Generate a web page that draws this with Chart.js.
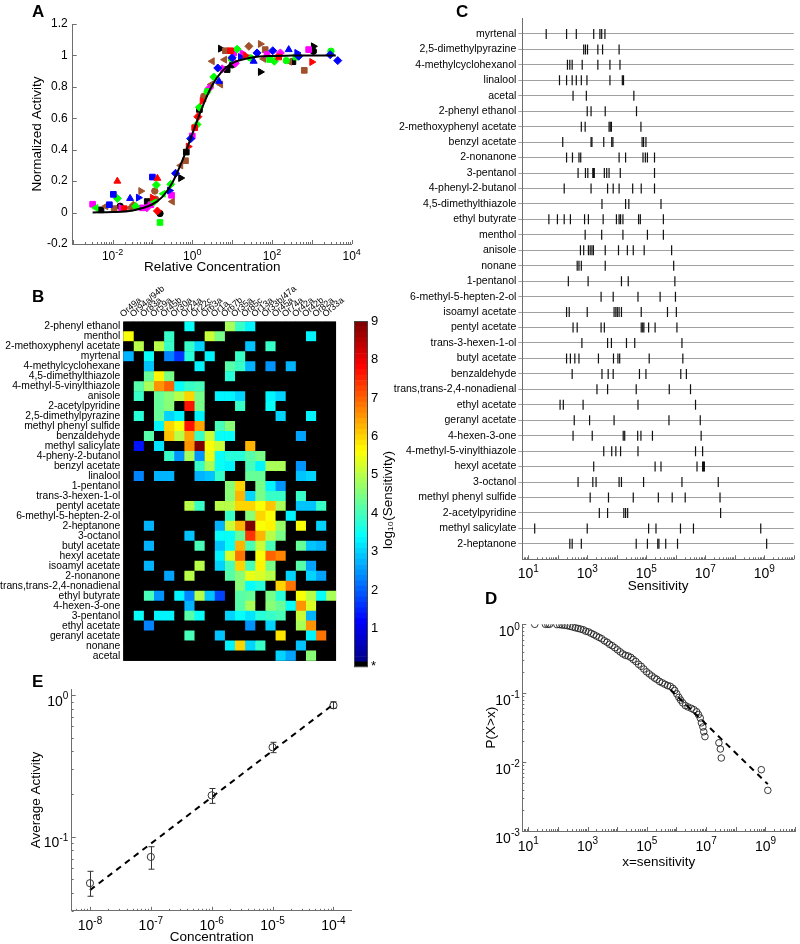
<!DOCTYPE html>
<html>
<head>
<meta charset="utf-8">
<script src="https://cdn.jsdelivr.net/npm/chart.js@4.4.1/dist/chart.umd.min.js"></script>
<style>
  body { margin: 0; background: #fff; }
  #page { position: relative; width: 800px; height: 944px; overflow: hidden; font-family: "Liberation Sans", Arial, sans-serif; }
  canvas { position: absolute; }
  .panel { position: absolute; font-weight: bold; font-size: 17px; line-height: 17px; }
</style>
</head>
<body>
<div id="page">
  <canvas id="chartA" width="372" height="280" style="left:0;top:0"></canvas>
  <canvas id="chartB" width="352" height="400" style="left:0;top:270px"></canvas>
  <canvas id="chartBar" width="60" height="410" style="left:352px;top:270px"></canvas>
  <canvas id="chartC" width="420" height="600" style="left:380px;top:0"></canvas>
  <canvas id="chartD" width="420" height="280" style="left:380px;top:600px"></canvas>
  <canvas id="chartE" width="372" height="284" style="left:0;top:660px"></canvas>
  <div class="panel" style="left:32px;top:3px">A</div>
  <div class="panel" style="left:32px;top:288px">B</div>
  <div class="panel" style="left:456px;top:3px">C</div>
  <div class="panel" style="left:485px;top:590px">D</div>
  <div class="panel" style="left:32px;top:673px">E</div>
</div>
<script>
// ---------- A: collapsed dose-response curves (log10 relative concentration, normalized activity)
const fitLogConc = [-2.5, -2, -1.5, -1, -0.75, -0.5, -0.25, 0, 0.25, 0.5, 0.75, 1, 1.5, 2, 2.5, 3, 3.6];
const fitActivity = [0.001, 0.003, 0.013, 0.053, 0.10, 0.19, 0.33, 0.5, 0.67, 0.81, 0.90, 0.95, 0.987, 0.997, 0.999, 1, 1];

const redLogConc = [-1.88, -0.875, -1.0, -0.1, 0.25, 3.0, 1.33, -1.71, 0.06, 0.96, 2.17, -0.875, 0.14];
const redActivity = [0.2, 0.218, 0.095, 0.42, 0.71, 0.958, 1.0, 0.025, 0.54, 1.03, 0.99, 0.01, 0.61];
const redMarks = ['tu', 'tu', 'tr', 'tr', 'tr', 'tr', 'tr', 'sq', 'sq', 'sq', 'sq', 'di', 'di'];

const blueLogConc = [-1.98, -1.0, -2.08, -1.56, 0.67, 1.54, 2.42, -1.35, -0.57, 1.21, 2.625, -0.42, -0.04, 0.64, 1.625, 2.02, 2.67, 3.65, 3.46, 1.0];
const blueActivity = [0.116, 0.226, 0.05, 0.09, 0.835, 0.963, 1.037, 0.095, 0.14, 0.99, 1.016, 0.25, 0.47, 0.92, 1.016, 1.03, 0.995, 0.967, 1.005, 0.985];
const blueMarks = ['sq', 'sq', 'sq', 'tu', 'tu', 'tu', 'tu', 'tr', 'tr', 'tr', 'tr', 'di', 'di', 'di', 'di', 'di', 'di', 'di', 'di', 'di'];

const greenLogConc = [-1.88, -1.42, -0.9, -0.96, -0.54, 0.12, 0.18, 0.54, 1.125, 2.06, -0.81, 1.94, 2.6, 0.98, 1.46, 2.36, 3.48, 0.375, -2.42, -0.73];
const greenActivity = [0.09, 0.04, 0.176, 0.07, 0.18, 0.56, 0.67, 0.863, 1.04, 0.963, -0.063, 0.974, 0.99, 0.98, 0.984, 0.967, 1.027, 0.77, 0.03, 0.12];
const greenMarks = ['di', 'di', 'di', 'di', 'di', 'di', 'di', 'di', 'di', 'di', 'sq', 'sq', 'sq', 'ci', 'ci', 'ci', 'ci', 'ci', 'tl', 'tl'];

const magentaLogConc = [-2.5, -1.25, -1.04, -0.52, 0.0, 1.04, 1.875, 2.92, -1.14, 0.42, 0.75, 1.08, 2.21, -1.79, 1.25];
const magentaActivity = [0.053, 0.03, 0.05, 0.11, 0.487, 1.016, 1.005, 1.037, 0.03, 0.79, 0.915, 0.95, 1.016, 0.03, 1.016];
const magentaMarks = ['sq', 'sq', 'sq', 'sq', 'sq', 'sq', 'sq', 'sq', 'di', 'di', 'di', 'di', 'di', 'tr', 'tr'];

const brownLogConc = [-2.17, -1.56, -0.5, -0.29, 0.475, 0.71, 0.5, 0.81, 1.79, 2.44, -1.29, 1.71, -1.96, -0.17, 0.83, 1.83, 2.81, -0.94, -0.92, 0.29, -1.48, 1.42];
const brownActivity = [0.04, 0.03, 0.07, 0.30, 0.815, 0.815, 0.963, 0.973, 0.978, 0.96, 0.137, 1.073, 0.025, 0.33, 1.03, 1.037, 0.905, 0.137, 0.085, 0.74, 0.047, 1.058];
const brownMarks = ['tl', 'tl', 'tl', 'tl', 'tl', 'tl', 'tl', 'tl', 'tl', 'tl', 'tr', 'tr', 'sq', 'sq', 'sq', 'sq', 'sq', 'ci', 'ci', 'ci', 'di', 'di'];

const blackLogConc = [-2.29, -1.13, -0.15, 0.18, 0.875, 2.525, -1.81, -0.81, 1.0, 3.04, -0.29, 0.71, 1.71, 3.04];
const blackActivity = [0.017, 0.07, 0.385, 0.656, 0.91, 0.96, 0.04, -0.006, 0.94, 1.027, 0.22, 1.043, 0.895, 1.058];
const blackMarks = ['sq', 'sq', 'sq', 'sq', 'sq', 'sq', 'ci', 'ci', 'ci', 'ci', 'tr', 'tr', 'tr', 'tr'];
const aTickExps = [-2, 0, 2, 4];

// ---------- B: log10(sensitivity) per odorant (rows) and receptor (columns), 0 = no response
const receptors = ['Or49a', 'Or94a/94b', 'Or83a', 'Or59a', 'Or45b', 'Or30a', 'Or24a', 'Or22c', 'Or63a', 'Or1a', 'Or67b',
  'Or35a', 'Or85c', 'Or13a', 'Or33b/47a', 'Or45a', 'Or74a', 'Or42a', 'Or42b', 'Or82a', 'Or33a'];
const odorants = ['2-phenyl ethanol', 'menthol', '2-methoxyphenyl acetate', 'myrtenal', '4-methylcyclohexane',
  '4,5-dimethylthiazole', '4-methyl-5-vinylthiazole', 'anisole', '2-acetylpyridine', '2,5-dimethylpyrazine',
  'methyl phenyl sulfide', 'benzaldehyde', 'methyl salicylate', '4-pheny-2-butanol', 'benzyl acetate', 'linalool',
  '1-pentanol', 'trans-3-hexen-1-ol', 'pentyl acetate', '6-methyl-5-hepten-2-ol', '2-heptanone', '3-octanol',
  'butyl acetate', 'hexyl acetate', 'isoamyl acetate', '2-nonanone', 'trans,trans-2,4-nonadienal', 'ethyl butyrate',
  '4-hexen-3-one', '3-pentanol', 'ethyl acetate', 'geranyl acetate', 'nonane', 'acetal'];
const sensitivity = [
  [0,0,0,0,0,0,3.4,0,0,0,4.8,3.9,3.3,0,0,0,0,0,0,0,0],
  [5.6,0,0,0,3.8,0,0,0,5.1,4.4,0,0,0,0,0,0,0,0,3.3,0,0],
  [0,5.0,0,5.0,3.9,0,3.9,3.0,0,0,0,0,2.9,0,3.9,0,0,0,0,0,0],
  [2.8,0,3.5,0,2.3,1.6,3.7,0,3.3,0,0,3.8,0,0,0,0,0,0,0,0,0],
  [0,0,2.9,0,0,0,0,3.3,0,0,4.2,3.8,2.7,0,2.4,0,2.7,0,0,0,0],
  [0,0,4.3,5.7,4.4,0,0,0,0,0,3.7,0,0,0,0,0,0,0,0,0,0],
  [0,4.1,4.8,6.6,6.9,3.5,3.9,4.0,0,0,0,0,0,0,0,0,0,0,0,0,0],
  [0,3.8,0,4.3,4.6,5.0,6.0,4.4,0,3.3,3.3,3.0,0,0,3.3,3.0,0,0,0,0,0],
  [0,0,0,4.3,4.5,0,7.6,4.4,0,0,0,3.8,0,0,3.4,0,0,0,0,0,0],
  [0,3.7,0,4.3,3.0,3.3,0,3.3,0,0,0,0,0,0,0,3.0,0,0,3.3,0,0],
  [0,0,0,3.3,6.0,5.6,7.6,6.4,0,4.0,4.6,0,0,0,0,0,0,0,0,0,0],
  [0,0,4.1,0,6.1,5.0,6.4,3.9,5.2,3.5,3.5,0,0,0,0,0,0,2.6,0,0,0],
  [0,1.3,0,3.2,0,0,6.5,9.0,5.6,5.2,0,0,6.2,0,0,0,0,0,0,0,0],
  [0,0,0,0,3.9,2.4,4.9,2.4,5.4,3.4,3.7,3.7,4.2,4.4,0,0,0,0,0,0,0],
  [0,0,0,0,0,0,0,3.9,4.8,3.5,3.3,0,4.0,3.3,4.9,4.9,0,2.4,0,0,0],
  [0,2.3,0,2.8,2.8,0,0,2.8,2.9,3.8,0,0,4.3,4.3,0,0,0,2.9,3.0,0,0],
  [0,0,0,0,0,0,0,0,0,0,4.6,6.0,0,4.4,3.3,2.5,0,0,0,0,0],
  [0,0,0,0,0,0,0,0,0,0,4.6,6.2,3.0,4.4,3.8,3.8,0,3.8,0,0,0],
  [0,0,0,0,0,0,5.0,3.8,0,5.0,5.0,6.0,6.0,5.6,6.1,4.9,0,2.9,2.9,3.8,0],
  [0,0,0,0,0,0,0,0,0,0,3.9,0,4.6,6.0,5.6,0,3.3,0,0,0,0],
  [0,0,2.7,0,0,0,0,0,0,2.8,5.1,6.2,9.0,5.6,5.7,4.7,0,5.5,0,3.0,0],
  [0,0,0,0,0,0,2.9,0,0,3.4,3.4,4.3,7.4,6.3,5.0,4.4,0,0,0,0,0],
  [0,0,2.8,0,0,0,0,4.0,0,2.9,3.4,6.2,4.0,5.1,4.0,0,0,4.3,2.9,2.7,0],
  [0,0,0,0,0,0,0,0,0,3.3,5.3,6.8,0,5.6,6.9,6.7,0,0,0,0,0],
  [0,0,2.8,0,0,0,0,5.0,0,3.0,4.0,6.0,4.0,5.7,4.4,0,0,4.2,2.6,0,0],
  [0,0,0,0,2.6,0,5.0,0,0,0,4.2,4.6,5.4,5.3,5.0,0,3.0,0,3.0,2.6,0],
  [0,0,0,0,0,0,0,0,0,0,0,4.6,3.4,3.7,0,6.0,6.8,0,0,0,0],
  [0,0,4.0,2.5,0,3.3,2.3,5.0,2.9,1.8,0,4.2,4.3,0,4.4,3.7,0,5.6,5.0,3.4,4.8],
  [0,0,0,0,0,0,2.8,0,0,0,0,4.2,4.9,0,4.6,4.3,3.4,6.6,5.3,0,0],
  [0,3.4,0,3.3,3.3,0,4.2,3.4,0,0,3.0,3.5,3.1,3.7,3.8,4.0,0,5.1,2.7,0,0],
  [0,0,2.3,0,0,0,0,0,0,0,0,0,2.5,0,3.0,0,0,4.8,6.6,0,0],
  [0,0,0,0,0,0,4.0,0,0,2.9,0,0,0,0,0,5.8,0,0,3.3,6.8,0],
  [0,0,0,0,0,0,0,0,0,0,3.3,6.0,3.0,3.8,0,0,0,2.9,0,0,0],
  [0,0,0,0,0,0,0,0,0,0,0,0,0,0,0,3.0,2.6,0,4.6,0,0]
];
const colorbarTicks = [1, 2, 3, 4, 5, 6, 7, 8, 9];

// ---------- C: log10 sensitivities of every receptor for each odorant
const cRows = ['myrtenal', '2,5-dimethylpyrazine', '4-methylcyclohexanol', 'linalool', 'acetal', '2-phenyl ethanol',
  '2-methoxyphenyl acetate', 'benzyl acetate', '2-nonanone', '3-pentanol', '4-phenyl-2-butanol', '4,5-dimethylthiazole',
  'ethyl butyrate', 'menthol', 'anisole', 'nonane', '1-pentanol', '6-methyl-5-hepten-2-ol', 'isoamyl acetate',
  'pentyl acetate', 'trans-3-hexen-1-ol', 'butyl acetate', 'benzaldehyde', 'trans,trans-2,4-nonadienal', 'ethyl acetate',
  'geranyl acetate', '4-hexen-3-one', '4-methyl-5-vinylthiazole', 'hexyl acetate', '3-octanol', 'methyl phenyl sulfide',
  '2-acetylpyridine', 'methyl salicylate', '2-heptanone'];
const cLogSens = [
  [1.61, 2.30, 2.63, 3.22, 3.43, 3.49, 3.60],
  [2.88, 2.94, 3.01, 3.36, 3.52, 4.08],
  [2.33, 2.41, 2.49, 2.83, 3.36, 3.77, 4.11],
  [2.06, 2.30, 2.49, 2.63, 2.80, 2.99, 3.77, 4.19, 4.23],
  [2.52, 2.97, 4.58],
  [3.00, 3.13, 3.61, 4.67],
  [2.80, 2.93, 3.74, 3.78, 3.82, 4.82],
  [2.17, 3.13, 3.16, 3.56, 3.83, 3.87, 4.86, 4.91, 4.99],
  [2.30, 2.50, 2.72, 2.78, 4.08, 4.30, 4.89, 4.97, 5.04, 5.28],
  [2.69, 2.94, 3.02, 3.19, 3.21, 3.24, 3.58, 3.66, 3.74, 4.12, 5.28],
  [2.22, 3.13, 3.69, 3.88, 4.08, 4.54, 4.83, 5.28],
  [3.50, 4.30, 4.41, 5.50],
  [1.70, 1.99, 2.22, 2.43, 2.91, 3.04, 3.54, 3.99, 4.08, 4.13, 4.21, 4.74, 4.80, 5.58],
  [2.93, 3.49, 4.21, 5.04, 5.58],
  [2.77, 2.88, 3.04, 3.10, 3.16, 3.21, 3.61, 4.06, 4.36, 4.56, 4.93, 5.86],
  [2.66, 2.72, 2.80, 3.61, 5.93],
  [2.36, 3.03, 4.16, 4.39, 5.97],
  [3.47, 3.88, 4.72, 5.47, 5.99],
  [2.30, 2.39, 3.00, 3.91, 3.97, 4.02, 4.08, 4.16, 4.83, 5.72, 6.02],
  [2.52, 2.66, 3.47, 3.58, 4.83, 4.88, 4.92, 5.08, 5.30, 6.04],
  [2.82, 3.69, 3.82, 4.33, 4.61, 6.21],
  [2.30, 2.43, 2.58, 2.72, 3.38, 3.89, 4.04, 4.10, 5.10, 6.24],
  [2.49, 3.50, 3.71, 3.88, 4.77, 4.99, 6.17, 6.36],
  [3.33, 3.69, 4.66, 5.78, 6.50],
  [2.08, 2.19, 2.86, 4.72, 6.67],
  [2.56, 3.08, 3.91, 5.77, 6.83],
  [2.52, 3.17, 4.22, 4.27, 4.71, 4.82, 5.21, 6.86],
  [3.56, 3.83, 3.97, 4.13, 4.72, 6.67, 6.91],
  [3.22, 5.30, 5.50, 6.72, 6.91, 6.94, 6.97],
  [2.69, 3.19, 3.30, 4.08, 4.16, 4.91, 6.21, 7.44],
  [3.10, 3.72, 4.56, 5.41, 5.88, 6.32, 7.50],
  [3.41, 3.69, 4.24, 4.30, 4.37, 7.52],
  [1.22, 3.00, 5.08, 5.33, 6.16, 6.60, 8.88],
  [2.41, 2.49, 2.80, 4.66, 5.04, 5.39, 5.43, 5.66, 6.06, 9.08]
];
const sensTickExps = [1, 3, 5, 7, 9];

// ---------- D: complementary cumulative distribution (log10 x, log10 P(X>x))
const dLogSens = [1.22, 1.58, 1.66, 1.72, 1.97, 2.06, 2.14, 2.23, 2.32, 2.41, 2.5, 2.59, 2.68, 2.77, 2.86, 2.94,
  3.03, 3.12, 3.21, 3.3, 3.39, 3.48, 3.57, 3.66, 3.74, 3.83, 3.92, 4.01, 4.1, 4.19, 4.28, 4.37, 4.46, 4.54, 4.63,
  4.72, 4.81, 4.9, 4.99, 5.08, 5.17, 5.26, 5.34, 5.43, 5.52, 5.61, 5.7, 5.79, 5.88, 5.94, 6.01, 6.08, 6.14, 6.21,
  6.3, 6.39, 6.5, 6.59, 6.68, 6.74, 6.8, 6.84, 6.89, 6.92, 6.96, 7.43, 7.48, 7.51, 8.86, 9.08];
const dLogProb = [0, 0, 0, 0, -0.005, -0.005, -0.01, -0.015, -0.02, -0.03, -0.04, -0.05, -0.06, -0.07, -0.08, -0.10,
  -0.11, -0.13, -0.15, -0.17, -0.19, -0.21, -0.24, -0.26, -0.29, -0.31, -0.34, -0.37, -0.40, -0.43, -0.45, -0.46,
  -0.48, -0.51, -0.54, -0.58, -0.61, -0.65, -0.69, -0.72, -0.75, -0.78, -0.80, -0.83, -0.85, -0.87, -0.89, -0.90,
  -0.93, -0.96, -1.01, -1.06, -1.10, -1.14, -1.18, -1.20, -1.22, -1.24, -1.27, -1.31, -1.36, -1.43, -1.49, -1.56,
  -1.63, -1.72, -1.81, -1.94, -2.11, -2.41];
const dFitLogSens = [5.8, 9.08];
const dFitLogProb = [-0.95, -2.32];
const probTickExps = [-3, -2, -1, 0];

// ---------- E: average activity vs concentration
const eConc = [1e-8, 1e-7, 1e-6, 1e-5, 1e-4];
const eMean = [0.047, 0.072, 0.196, 0.428, 0.846];
const eLow = [0.038, 0.059, 0.172, 0.392, 0.805];
const eHigh = [0.057, 0.085, 0.219, 0.464, 0.897];
const eFitConc = [1e-8, 1e-4];
const eFitActivity = [0.042, 0.86];
const concTickExps = [-8, -7, -6, -5, -4];
const activityTickExps = [-1, 0];

// ---------- helpers
const FAMILY = '"Liberation Sans", Arial, Helvetica, sans-serif';
Chart.defaults.font.family = FAMILY;
Chart.defaults.color = '#000';
const axisColor = '#6e6e6e';
const isDecade = v => Math.abs(Math.log10(v) - Math.round(Math.log10(v))) < 1e-6;

function logTicks(lo, hi, min, max) {
  const out = [];
  for (let e = lo; e <= hi; e++) {
    for (let m = 1; m <= 9; m++) {
      const v = m * Math.pow(10, e);
      if (v >= min * 0.9999 && v <= max * 1.0001) out.push({ value: v });
    }
  }
  return out;
}

// MATLAB style ticks pointing into the plot
const inwardTicks = {
  id: 'inwardTicks',
  afterDatasetsDraw(chart, args, opts) {
    const { ctx, chartArea: a } = chart;
    ctx.save();
    ctx.strokeStyle = axisColor;
    ctx.lineWidth = 1;
    for (const id of (opts.axes || [])) {
      const s = chart.scales[id];
      for (const t of s.ticks) {
        const len = (s.type !== 'logarithmic' || isDecade(t.value)) ? 4 : 2;
        const p = Math.round(s.getPixelForValue(t.value)) + 0.5;
        ctx.beginPath();
        if (s.isHorizontal()) { ctx.moveTo(p, a.bottom); ctx.lineTo(p, a.bottom - len); }
        else { ctx.moveTo(a.left, p); ctx.lineTo(a.left + len, p); }
        ctx.stroke();
      }
    }
    ctx.restore();
  }
};

// "10" with a raised exponent at each labelled decade
const powerLabels = {
  id: 'powerLabels',
  afterDraw(chart, args, opts) {
    const { ctx, chartArea: a } = chart;
    ctx.save();
    ctx.fillStyle = '#000';
    ctx.textAlign = 'left';
    ctx.textBaseline = 'alphabetic';
    for (const [id, cfg] of Object.entries(opts.axes || {})) {
      const s = chart.scales[id];
      const big = cfg.size, small = Math.round(cfg.size * 0.72);
      for (const e of cfg.exps) {
        const p = s.getPixelForValue(Math.pow(10, e));
        const ex = String(e);
        ctx.font = `${big}px ${FAMILY}`;
        const w1 = ctx.measureText('10').width;
        ctx.font = `${small}px ${FAMILY}`;
        const w2 = ctx.measureText(ex).width;
        let x0, base;
        if (s.isHorizontal()) { x0 = p - (w1 + w2) / 2; base = a.bottom + cfg.offset; }
        else { x0 = a.left - cfg.pad - w1 - w2; base = p + cfg.offset; }
        ctx.font = `${big}px ${FAMILY}`;
        ctx.fillText('10', x0, base);
        ctx.font = `${small}px ${FAMILY}`;
        ctx.fillText(ex, x0 + w1, base - big * 0.45);
      }
    }
    ctx.restore();
  }
};

const markStyle = { sq: 'rect', di: 'rectRot', tu: 'triangle', tl: 'triangle', tr: 'triangle', ci: 'circle' };
const markRot = { tl: -90, tr: 90 };
function markerSet(color, logX, yVals, marks) {
  return {
    data: logX.map((v, i) => ({ x: Math.pow(10, v), y: yVals[i] })),
    pointStyle: marks.map(m => markStyle[m]),
    pointRotation: marks.map(m => markRot[m] || 0),
    pointRadius: marks.map(m => m === 'ci' ? 3.2 : 4),
    pointBackgroundColor: color,
    pointBorderColor: color,
    pointBorderWidth: 1
  };
}

function jet(t) {
  const c = x => Math.max(0, Math.min(1, x));
  const r = c(1.5 - Math.abs(4 * t - 3)), g = c(1.5 - Math.abs(4 * t - 2)), b = c(1.5 - Math.abs(4 * t - 1));
  return `rgb(${Math.round(r * 255)},${Math.round(g * 255)},${Math.round(b * 255)})`;
}
const levelColor = i => i === 0 ? '#000' : jet(i / 63);
const heatColor = v => levelColor(Math.max(0, Math.min(63, Math.floor(v / 9 * 64))));

const base = { responsive: false, animation: false, devicePixelRatio: 1,
  plugins: { legend: { display: false }, tooltip: { enabled: false } } };
const noGrid = { display: false, drawTicks: false };

// ---------- A
new Chart(document.getElementById('chartA'), {
  type: 'scatter',
  data: { datasets: [
    { data: fitLogConc.map((v, i) => ({ x: Math.pow(10, v), y: fitActivity[i] })), showLine: true,
      borderColor: '#000', borderWidth: 2, pointRadius: 0, cubicInterpolationMode: 'monotone' },
    markerSet('#ff0000', redLogConc, redActivity, redMarks),
    markerSet('#0000ff', blueLogConc, blueActivity, blueMarks),
    markerSet('#00ff00', greenLogConc, greenActivity, greenMarks),
    markerSet('#ff00ff', magentaLogConc, magentaActivity, magentaMarks),
    markerSet('#a0522d', brownLogConc, brownActivity, brownMarks),
    markerSet('#000000', blackLogConc, blackActivity, blackMarks)
  ] },
  options: { ...base,
    layout: { padding: { top: 24, right: 20.3 } },
    scales: {
      x: { type: 'logarithmic', min: 1e-3, max: 1e4, grid: noGrid, border: { color: axisColor },
        afterBuildTicks: s => { s.ticks = logTicks(-3, 4, 1e-3, 1e4); },
        ticks: { display: false },
        title: { display: true, text: 'Relative Concentration', font: { size: 13.5 }, padding: { top: 0, bottom: 5 } },
        afterFit: s => { s.height = 36; } },
      y: { min: -0.2, max: 1.2, grid: noGrid, border: { color: axisColor },
        ticks: { stepSize: 0.2, padding: 5, font: { size: 12 },
          callback: v => { const r = Math.round(v * 10) / 10; return r === 0 ? '0' : String(r); } },
        title: { display: true, text: 'Normalized Activity', font: { size: 13.5 }, padding: { top: 29, bottom: 0 } },
        afterFit: s => { s.width = 72.7; } }
    },
    plugins: { ...base.plugins, inwardTicks: { axes: ['x', 'y'] },
      powerLabels: { axes: { x: { exps: aTickExps, size: 12, offset: 16 } } } }
  },
  plugins: [inwardTicks, powerLabels]
});

// ---------- B heatmap
const blackArea = {
  id: 'blackArea',
  beforeDatasetsDraw(chart) {
    const { ctx, chartArea: a } = chart;
    ctx.save(); ctx.fillStyle = '#000';
    ctx.fillRect(a.left, a.top, a.right - a.left, a.bottom - a.top);
    ctx.restore();
  }
};
new Chart(document.getElementById('chartB'), {
  type: 'bar',
  data: { labels: odorants, datasets: receptors.map((r, k) => ({
    label: r,
    data: odorants.map(() => 1),
    backgroundColor: sensitivity.map(row => heatColor(row[k])),
    borderWidth: 0, barPercentage: 1, categoryPercentage: 1, inflateAmount: 0.3
  })) },
  options: { ...base, indexAxis: 'y',
    layout: { padding: { right: 5.3, bottom: 2.2 } },
    scales: {
      x: { stacked: true, display: false, min: 0, max: 21 },
      y: { stacked: true, grid: noGrid, border: { display: false },
        ticks: { autoSkip: false, padding: 3, font: { size: 10.3 } },
        afterFit: s => { s.width = 123.3; } },
      x2: { type: 'linear', position: 'top', min: 0, max: 21, grid: noGrid, border: { display: false },
        afterBuildTicks: s => { s.ticks = receptors.map((r, k) => ({ value: k + 0.5 })); },
        ticks: { autoSkip: false, minRotation: 41, maxRotation: 41, padding: 2, font: { size: 9 },
          callback: v => receptors[Math.round(v - 0.5)] },
        afterFit: s => { s.height = 51.6; } }
    }
  },
  plugins: [blackArea]
});

// colour bar
const barDecor = {
  id: 'barDecor',
  afterDraw(chart) {
    const { ctx, chartArea: a } = chart;
    ctx.save();
    ctx.strokeStyle = '#444'; ctx.lineWidth = 1;
    ctx.strokeRect(Math.round(a.left) + 0.5, Math.round(a.top) + 0.5, Math.round(a.right - a.left) - 1, Math.round(a.bottom - a.top) - 1);
    ctx.translate(36, 230);
    ctx.rotate(-Math.PI / 2);
    ctx.fillStyle = '#000';
    ctx.font = `13.5px ${FAMILY}`;
    ctx.textAlign = 'center'; ctx.textBaseline = 'middle';
    ctx.fillText('log\u2081\u2080(Sensitivity)', 0, 0);
    ctx.restore();
  }
};
new Chart(document.getElementById('chartBar'), {
  type: 'bar',
  data: { labels: [''], datasets: Array.from({ length: 64 }, (_, i) => ({
    data: [9 / 64], backgroundColor: levelColor(i), borderWidth: 0, barPercentage: 1, categoryPercentage: 1 })) },
  options: { ...base,
    layout: { padding: { left: 2, top: 51, bottom: 12.7 } },
    scales: {
      x: { stacked: true, display: false },
      y: { stacked: true, position: 'right', min: 0, max: 9, grid: noGrid, border: { display: false },
        afterBuildTicks: s => { s.ticks = [{ value: 0.02 }].concat(colorbarTicks.map(v => ({ value: v }))); },
        ticks: { autoSkip: false, padding: 3, font: { size: 13 }, callback: v => v < 0.5 ? '*' : String(v) },
        afterFit: s => { s.width = 44; } }
    }
  },
  plugins: [barDecor]
});

// ---------- C
const cPoints = [];
cLogSens.forEach((row, r) => row.forEach(v => cPoints.push({ x: Math.pow(10, v), y: r })));
new Chart(document.getElementById('chartC'), {
  type: 'scatter',
  data: { datasets: [{ data: cPoints, pointStyle: 'line', pointRotation: 90, pointRadius: 5,
    pointBorderColor: '#111', pointBorderWidth: 1.2 }] },
  options: { ...base,
    layout: { padding: { top: 18.5 } },
    scales: {
      x: { type: 'logarithmic', min: Math.pow(10, 0.8), max: 1e10, grid: noGrid, border: { color: axisColor },
        afterBuildTicks: s => { s.ticks = logTicks(0, 10, Math.pow(10, 0.8), 1e10); },
        ticks: { display: false },
        title: { display: true, text: 'Sensitivity', font: { size: 13.5 }, padding: { top: 0, bottom: 6 } },
        afterFit: s => { s.height = 40.7; } },
      y: { min: -1, max: 34, reverse: true, border: { color: axisColor },
        grid: { color: '#a0a0a0', tickLength: 4, drawTicks: true },
        afterBuildTicks: s => { s.ticks = cRows.map((n, i) => ({ value: i })); },
        ticks: { autoSkip: false, padding: 2, font: { size: 10.5 }, callback: v => cRows[v] },
        afterFit: s => { s.width = 142.3; } }
    },
    plugins: { ...base.plugins, inwardTicks: { axes: ['x'] },
      powerLabels: { axes: { x: { exps: sensTickExps, size: 14, offset: 19 } } } }
  },
  plugins: [inwardTicks, powerLabels]
});

// ---------- D
new Chart(document.getElementById('chartD'), {
  type: 'scatter',
  data: { datasets: [
    { data: dFitLogSens.map((v, i) => ({ x: Math.pow(10, v), y: Math.pow(10, dFitLogProb[i]) })), showLine: true,
      borderColor: '#000', borderWidth: 2, borderDash: [6, 5], pointRadius: 0 },
    { data: dLogSens.map((v, i) => ({ x: Math.pow(10, v), y: Math.pow(10, dLogProb[i]) })), pointStyle: 'circle',
      pointRadius: 3.3, pointBorderColor: '#222', pointBackgroundColor: 'rgba(255,255,255,0)', pointBorderWidth: 0.9 }
  ] },
  options: { ...base,
    layout: { padding: { top: 24.3 } },
    scales: {
      x: { type: 'logarithmic', min: Math.pow(10, 0.8), max: 1e10, grid: noGrid, border: { color: axisColor },
        afterBuildTicks: s => { s.ticks = logTicks(0, 10, Math.pow(10, 0.8), 1e10); },
        ticks: { display: false },
        title: { display: true, text: 'x=sensitivity', font: { size: 13.5 }, padding: { top: 0, bottom: 10 } },
        afterFit: s => { s.height = 49; } },
      y: { type: 'logarithmic', min: 1e-3, max: 1, grid: noGrid, border: { color: axisColor },
        afterBuildTicks: s => { s.ticks = logTicks(-3, 0, 1e-3, 1); },
        ticks: { display: false },
        title: { display: true, text: 'P(X>x)', font: { size: 13.5 }, padding: { top: 103, bottom: 0 } },
        afterFit: s => { s.width = 142.3; } }
    },
    plugins: { ...base.plugins, inwardTicks: { axes: ['x', 'y'] },
      powerLabels: { axes: { x: { exps: sensTickExps, size: 14, offset: 19.7 },
                             y: { exps: probTickExps, size: 14, pad: 2.5, offset: 11.5 } } } }
  },
  plugins: [inwardTicks, powerLabels]
});

// ---------- E
const errorBars = {
  id: 'errorBars',
  afterDatasetsDraw(chart) {
    const { ctx, scales: { x, y } } = chart;
    ctx.save(); ctx.strokeStyle = '#333'; ctx.lineWidth = 1;
    eConc.forEach((c, i) => {
      const px = Math.round(x.getPixelForValue(c)) + 0.5;
      const lo = y.getPixelForValue(eLow[i]), hi = y.getPixelForValue(eHigh[i]);
      ctx.beginPath();
      ctx.moveTo(px, lo); ctx.lineTo(px, hi);
      ctx.moveTo(px - 3, lo); ctx.lineTo(px + 3, lo);
      ctx.moveTo(px - 3, hi); ctx.lineTo(px + 3, hi);
      ctx.stroke();
    });
    ctx.restore();
  }
};
new Chart(document.getElementById('chartE'), {
  type: 'scatter',
  data: { datasets: [
    { data: eFitConc.map((c, i) => ({ x: c, y: eFitActivity[i] })), showLine: true,
      borderColor: '#000', borderWidth: 2, borderDash: [6, 5], pointRadius: 0 },
    { data: eConc.map((c, i) => ({ x: c, y: eMean[i] })), pointStyle: 'circle', pointRadius: 3.6,
      pointBorderColor: '#333', pointBackgroundColor: 'rgba(255,255,255,0)', pointBorderWidth: 1 }
  ] },
  options: { ...base,
    layout: { padding: { top: 29.2, right: 20.3 } },
    scales: {
      x: { type: 'logarithmic', min: Math.pow(10, -8.3), max: Math.pow(10, -3.7), grid: noGrid, border: { color: axisColor },
        afterBuildTicks: s => { s.ticks = logTicks(-9, -4, Math.pow(10, -8.3), Math.pow(10, -3.7)); },
        ticks: { display: false },
        title: { display: true, text: 'Concentration', font: { size: 13.5, lineHeight: 1 }, padding: { top: 0, bottom: 0 } },
        afterFit: s => { s.height = 33.2; } },
      y: { type: 'logarithmic', min: 0.03, max: 1.1, grid: noGrid, border: { color: axisColor },
        afterBuildTicks: s => { s.ticks = logTicks(-2, 0, 0.03, 1.1); },
        ticks: { display: false },
        title: { display: true, text: 'Average Activity', font: { size: 13.5 }, padding: { top: 28.6, bottom: 0 } },
        afterFit: s => { s.width = 71.7; } }
    },
    plugins: { ...base.plugins, inwardTicks: { axes: ['x', 'y'] },
      powerLabels: { axes: { x: { exps: concTickExps, size: 14, offset: 19.2 },
                             y: { exps: activityTickExps, size: 14, pad: 3.4, offset: 10.5 } } } }
  },
  plugins: [inwardTicks, errorBars, powerLabels]
});
</script>
</body>
</html>
